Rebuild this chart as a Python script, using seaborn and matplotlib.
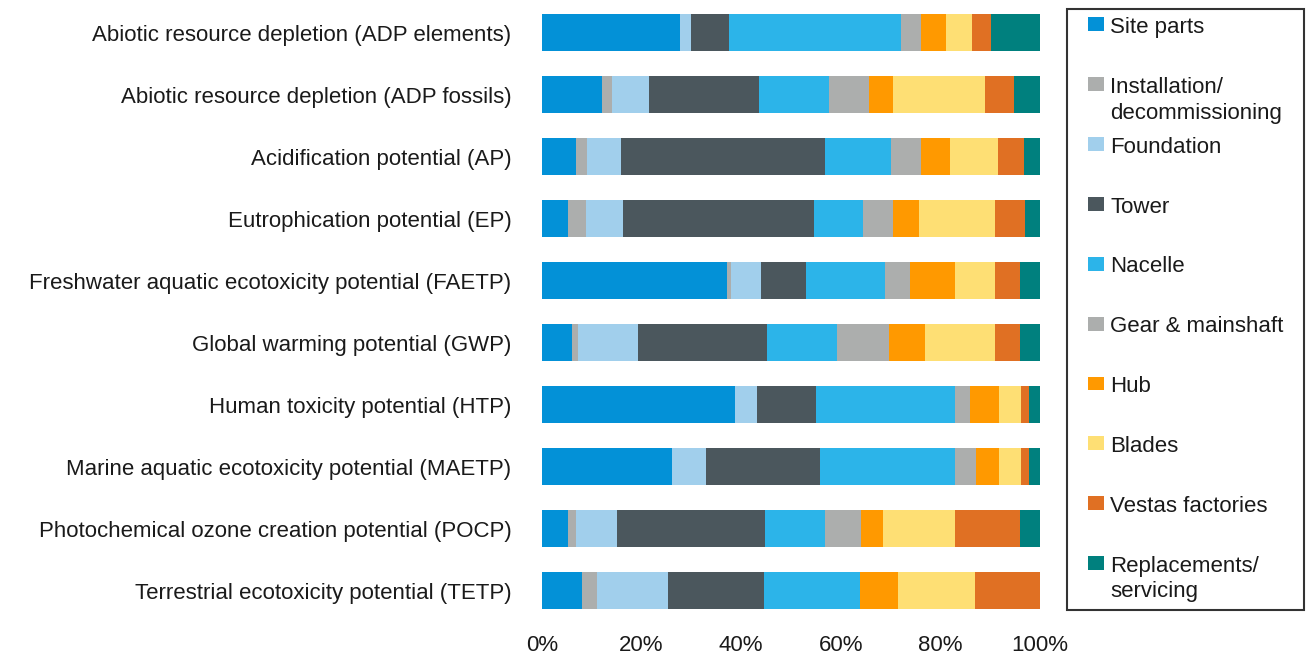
import pandas as pd
import matplotlib.pyplot as plt
import seaborn as sns
from matplotlib.patches import Patch, Rectangle
from matplotlib.legend_handler import HandlerPatch

# categories (top to bottom)
categories = [
    "Abiotic resource depletion (ADP elements)",
    "Abiotic resource depletion (ADP fossils)",
    "Acidification potential (AP)",
    "Eutrophication potential (EP)",
    "Freshwater aquatic ecotoxicity potential (FAETP)",
    "Global warming potential (GWP)",
    "Human toxicity potential (HTP)",
    "Marine aquatic ecotoxicity potential (MAETP)",
    "Photochemical ozone creation potential (POCP)",
    "Terrestrial ecotoxicity potential (TETP)",
]

# share of each life-cycle stage, %
site_parts = [27.7, 12.0, 6.8, 5.2, 37.1, 6.0, 38.8, 26.1, 5.2, 8.0]
installation = [0.0, 2.0, 2.2, 3.6, 0.8, 1.2, 0.0, 0.0, 1.6, 3.0]
foundation = [2.2, 7.4, 6.8, 7.4, 6.0, 12.0, 4.4, 6.8, 8.2, 14.3]
tower = [7.6, 22.1, 41.0, 38.4, 9.0, 25.9, 11.8, 22.9, 29.7, 19.5]
nacelle = [34.5, 14.1, 13.3, 9.8, 15.9, 14.1, 27.9, 27.1, 12.0, 19.3]
gear = [4.0, 8.0, 6.0, 6.0, 5.0, 10.4, 3.0, 4.2, 7.2, 0.0]
hub = [5.0, 4.8, 6.0, 5.2, 9.1, 7.2, 5.8, 4.6, 4.6, 7.6]
blades = [5.2, 18.5, 9.6, 15.3, 8.0, 14.1, 4.4, 4.4, 14.3, 15.5]
vestas = [3.8, 5.8, 5.2, 6.0, 5.0, 5.0, 1.6, 1.6, 13.1, 13.1]
replacements = [9.8, 5.2, 3.2, 3.0, 4.0, 4.0, 2.2, 2.2, 4.0, 0.0]

stages = ["Site parts", "Installation/\ndecommissioning", "Foundation", "Tower",
          "Nacelle", "Gear & mainshaft", "Hub", "Blades", "Vestas factories",
          "Replacements/\nservicing"]
colors = ["#0391D7", "#ACAEAD", "#A1CFEC", "#4B575D", "#2CB4E9",
          "#ACAEAD", "#FF9900", "#FEDF74", "#E07023", "#00807E"]

df = pd.DataFrame({
    "Category": categories,
    stages[0]: site_parts, stages[1]: installation, stages[2]: foundation,
    stages[3]: tower, stages[4]: nacelle, stages[5]: gear, stages[6]: hub,
    stages[7]: blades, stages[8]: vestas, stages[9]: replacements,
})
shares = df[stages]
shares = shares.div(shares.sum(axis=1), axis=0) * 100
cum = shares.cumsum(axis=1)

sns.set_style("white")
plt.rcParams["font.family"] = ["Liberation Sans", "DejaVu Sans"]
FS = 16

fig = plt.figure(figsize=(13.1, 6.59), dpi=100)
ax = fig.add_axes([542 / 1310, 1 - 621.5 / 659, 498 / 1310, 620 / 659])

# stacked bars: draw cumulative totals from the last stage back to the first
for stage, color in reversed(list(zip(stages, colors))):
    sns.barplot(x=cum[stage], y=df["Category"], orient="h", color=color,
                width=0.6, saturation=1, linewidth=0, ax=ax)

ax.set_xlim(0, 100)
ax.set_xticks([0, 20, 40, 60, 80, 100])
ax.set_xticklabels([f"{v}%" for v in [0, 20, 40, 60, 80, 100]])
ax.set_xlabel("")
ax.set_ylabel("")
ax.tick_params(axis="y", length=0, pad=22, labelsize=FS, labelcolor="#1a1a1a")
ax.tick_params(axis="x", length=0, pad=10, labelsize=FS, labelcolor="#1a1a1a")
sns.despine(ax=ax, left=True, bottom=True)

# legend: every label takes two lines, the colour box sits on the first line
LINE_UP = 11.6
BOX_W = 11.5


def top_line_box(legend, orig_handle, xdescent, ydescent, width, height, fontsize):
    return Rectangle((-xdescent + width - BOX_W, -ydescent + LINE_UP), BOX_W, height)


handles = [Patch(facecolor=c, edgecolor="none") for c in colors]
labels = [s if "\n" in s else s + "\n" for s in stages]
leg = fig.legend(handles, labels, loc="upper left",
                 bbox_to_anchor=(1067 / 1310, 1 - 9 / 659, 237 / 1310, 0.0),
                 bbox_transform=fig.transFigure, fontsize=FS, mode="expand",
                 frameon=True, fancybox=False, edgecolor="black",
                 borderpad=0.36, labelspacing=0.595, handlelength=1.3,
                 handleheight=0.58, handletextpad=0.28, borderaxespad=0,
                 handler_map={Patch: HandlerPatch(patch_func=top_line_box)})
leg.get_frame().set_linewidth(1.5)
for t in leg.get_texts():
    t.set_linespacing(1.29)
    t.set_color("#1a1a1a")

fig.savefig("out.png", dpi=100)
